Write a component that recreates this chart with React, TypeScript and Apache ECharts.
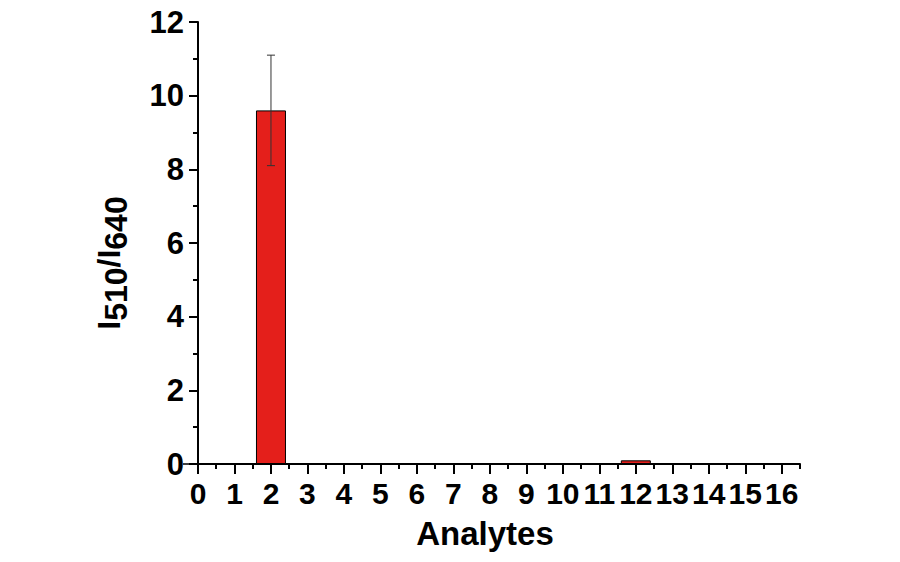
import React, { useEffect, useRef } from "react";
import * as echarts from "echarts";

const xPositions = [0, 1, 2, 3, 4, 5, 6, 7, 8, 9, 10, 11, 12, 13, 14, 15, 16];
const ratioValues = [0, 0, 9.6, 0, 0, 0, 0, 0.02, 0.02, 0, 0.02, 0, 0.1, 0.02, 0.02, 0.02, 0.02];
const ratioErrors = [0, 0, 1.5, 0, 0, 0, 0, 0, 0, 0, 0, 0, 0, 0, 0, 0, 0];
const yTickLabels = ["0", "2", "4", "6", "8", "10", "12"];

const FONT = "'Liberation Sans', Arial, Helvetica, sans-serif";

export default function App() {
  const ref = useRef<HTMLDivElement>(null);

  useEffect(() => {
    if (!ref.current) return;
    const chart = echarts.init(ref.current, undefined, { renderer: "svg" });

    const barData = xPositions.map((x, i) => [x, ratioValues[i]]);
    const errData = xPositions
      .map((x, i) => [x, ratioValues[i] - ratioErrors[i], ratioValues[i] + ratioErrors[i], ratioErrors[i]])
      .filter((d) => d[3] > 0);

    const option: any = {
      animation: false,
      backgroundColor: "#ffffff",
      grid: { left: 198, right: 100, top: 22, bottom: 98, containLabel: false },
      xAxis: [
        {
          type: "value",
          min: 0,
          max: 16.5,
          interval: 0.5,
          position: "bottom",
          axisLine: { show: true, onZero: false, lineStyle: { color: "#000", width: 2 } },
          axisTick: { show: true, length: 5, lineStyle: { color: "#000", width: 2 } },
          axisLabel: { show: false },
          splitLine: { show: false },
        },
        {
          type: "value",
          min: 0,
          max: 16.5,
          interval: 1,
          position: "bottom",
          axisLine: { show: false },
          axisTick: {
            show: true,
            length: 10,
            customValues: xPositions,
            lineStyle: { color: "#000", width: 2 },
          },
          axisLabel: {
            show: true,
            customValues: xPositions,
            margin: 14,
            color: "#000",
            fontSize: 30,
            fontWeight: "bold",
            fontFamily: FONT,
            formatter: (v: number) => String(v),
          },
          splitLine: { show: false },
        },
      ],
      yAxis: {
        type: "value",
        min: 0,
        max: 12,
        interval: 2,
        axisLine: { show: true, onZero: false, lineStyle: { color: "#000", width: 2 } },
        axisTick: { show: true, length: 9, lineStyle: { color: "#000", width: 2 } },
        minorTick: { show: true, splitNumber: 2, length: 5, lineStyle: { color: "#000", width: 2 } },
        axisLabel: {
          margin: 14,
          color: "#000",
          fontSize: 31,
          fontWeight: "bold",
          fontFamily: FONT,
          formatter: (v: number) => yTickLabels[Math.round(v / 2)] ?? String(v),
        },
        splitLine: { show: false },
      },
      graphic: [
        {
          type: "text",
          x: 112,
          y: 263,
          rotation: Math.PI / 2,
          style: {
            text: "{i|I}{s|510}{i|/I}{s|640}",
            align: "center",
            verticalAlign: "middle",
            fill: "#000",
            rich: {
              i: {
                fontSize: 32,
                fontWeight: "bold",
                fontFamily: FONT,
                fill: "#000",
                padding: [0, 0, 7, 0],
                verticalAlign: "bottom",
              },
              s: {
                fontSize: 32,
                fontWeight: "bold",
                fontFamily: FONT,
                fill: "#000",
                verticalAlign: "bottom",
              },
            },
          },
        },
        {
          type: "text",
          x: 485,
          y: 533,
          style: {
            text: "Analytes",
            align: "center",
            verticalAlign: "middle",
            fill: "#000",
            fontSize: 33,
            fontWeight: "bold",
            fontFamily: FONT,
          },
        },
      ],
      series: [
        {
          type: "bar",
          xAxisIndex: 0,
          yAxisIndex: 0,
          data: barData,
          barWidth: 30,
          itemStyle: { color: "#e41f1b", borderColor: "#000", borderWidth: 1 },
          z: 3,
        },
        {
          type: "custom",
          xAxisIndex: 0,
          yAxisIndex: 0,
          data: errData,
          z: 4,
          renderItem: (params: any, api: any) => {
            const x = api.value(0);
            const lo = api.coord([x, api.value(1)]);
            const hi = api.coord([x, api.value(2)]);
            const half = 4;
            const style = { stroke: "#333", lineWidth: 1 };
            return {
              type: "group",
              children: [
                { type: "line", shape: { x1: lo[0], y1: lo[1], x2: hi[0], y2: hi[1] }, style },
                { type: "line", shape: { x1: hi[0] - half, y1: hi[1], x2: hi[0] + half, y2: hi[1] }, style },
                { type: "line", shape: { x1: lo[0] - half, y1: lo[1], x2: lo[0] + half, y2: lo[1] }, style },
              ],
            };
          },
        },
      ],
    };

    chart.setOption(option);
    return () => chart.dispose();
  }, []);

  return (
    <div
      ref={ref}
      style={{ position: "fixed", left: 0, top: 0, width: 900, height: 562, background: "#fff" }}
    />
  );
}
